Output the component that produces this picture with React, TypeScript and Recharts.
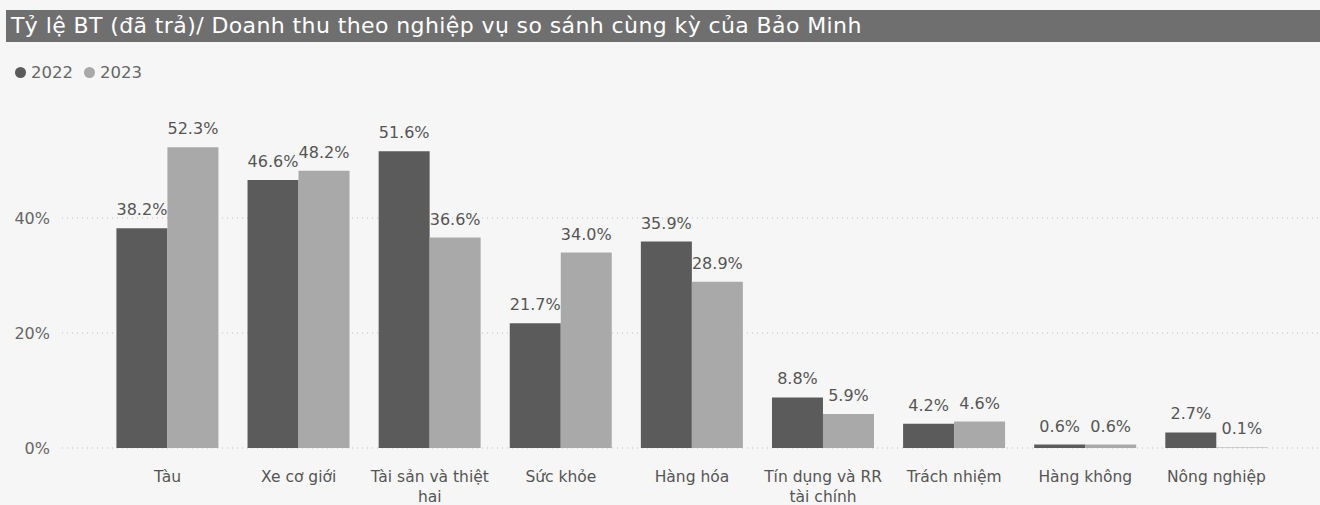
import React from 'react';
import { BarChart, Bar, XAxis, YAxis, CartesianGrid, LabelList, Text } from 'recharts';

const categories = [
  'Tàu',
  'Xe cơ giới',
  'Tài sản và thiệt hai',
  'Sức khỏe',
  'Hàng hóa',
  'Tín dụng và RR tài chính',
  'Trách nhiệm',
  'Hàng không',
  'Nông nghiệp',
];
const values2022 = [38.2, 46.6, 51.6, 21.7, 35.9, 8.8, 4.2, 0.6, 2.7];
const values2023 = [52.3, 48.2, 36.6, 34.0, 28.9, 5.9, 4.6, 0.6, 0.1];
const yTicks = [0, 20, 40];

const data = categories.map((name, i) => ({
  name,
  y2022: values2022[i],
  y2023: values2023[i],
}));

const DARK = '#5b5b5b';
const LIGHT = '#a9a9a9';
const FONT = '"DejaVu Sans", Verdana, sans-serif';

// wrapped category label, measured with the same font so it breaks like the original
const CategoryTick = (props: any) => {
  const { x, y, payload } = props;
  return (
    <Text
      x={x}
      y={y}
      width={125}
      textAnchor="middle"
      verticalAnchor="start"
      lineHeight={20}
      fontSize={15.5}
      fontFamily={FONT}
      style={{ fontSize: 15.5, fontFamily: FONT }}
      fill="#555"
    >
      {payload.value}
    </Text>
  );
};

const pct = (v: number) => `${v.toFixed(1)}%`;

export default function App() {
  return (
    <div
      style={{
        position: 'absolute',
        left: 0,
        top: 0,
        width: 1320,
        height: 505,
        background: '#f6f6f6',
        fontFamily: FONT,
        overflow: 'hidden',
      }}
    >
      {/* title bar */}
      <div
        style={{
          position: 'absolute',
          left: 6,
          top: 10,
          width: 1314,
          height: 32,
          background: '#6f6f6f',
          color: '#fff',
          fontSize: 22,
          letterSpacing: 0.4,
          lineHeight: '32px',
          paddingLeft: 5,
          boxSizing: 'border-box',
          whiteSpace: 'nowrap',
        }}
      >
        Tỷ lệ BT (đã trả)/ Doanh thu theo nghiệp vụ so sánh cùng kỳ của Bảo Minh
      </div>
      {/* legend */}
      <div
        style={{
          position: 'absolute',
          left: 15,
          top: 63,
          fontSize: 16.5,
          color: '#666',
          display: 'flex',
          alignItems: 'center',
        }}
      >
        <span style={{ width: 11, height: 11, borderRadius: 6, background: DARK, marginRight: 5, display: 'inline-block' }} />
        <span style={{ marginRight: 11 }}>2022</span>
        <span style={{ width: 11, height: 11, borderRadius: 6, background: LIGHT, marginRight: 5, display: 'inline-block' }} />
        <span>2023</span>
      </div>
      <div style={{ position: 'absolute', left: 0, top: 90 }}>
        <BarChart
          width={1320}
          height={415}
          data={data}
          margin={{ top: 13, right: 2, bottom: 27, left: 0 }}
          barCategoryGap="11%"
          barGap={0}
        >
          <CartesianGrid vertical={false} horizontalValues={yTicks} stroke="#bdbdbd" strokeDasharray="1 4" />
          <XAxis
            dataKey="name"
            interval={0}
            axisLine={false}
            tickLine={false}
            tickSize={0}
            tickMargin={23}
            padding={{ left: 40, right: 36 }}
            tick={<CategoryTick />}
          />
          <YAxis
            width={62}
            domain={[0, 60]}
            ticks={yTicks}
            axisLine={false}
            tickLine={false}
            tickSize={0}
            tickMargin={12}
            tickFormatter={(v: number) => `${v}%`}
            tick={{ fontSize: 16, fill: '#666', fontFamily: FONT }}
          />
          <Bar dataKey="y2022" name="2022" fill={DARK} isAnimationActive={false}>
            <LabelList dataKey="y2022" position="top" offset={13} formatter={pct} fill="#555" fontSize={16} fontFamily={FONT} />
          </Bar>
          <Bar dataKey="y2023" name="2023" fill={LIGHT} isAnimationActive={false}>
            <LabelList dataKey="y2023" position="top" offset={13} formatter={pct} fill="#555" fontSize={16} fontFamily={FONT} />
          </Bar>
        </BarChart>
      </div>
    </div>
  );
}
